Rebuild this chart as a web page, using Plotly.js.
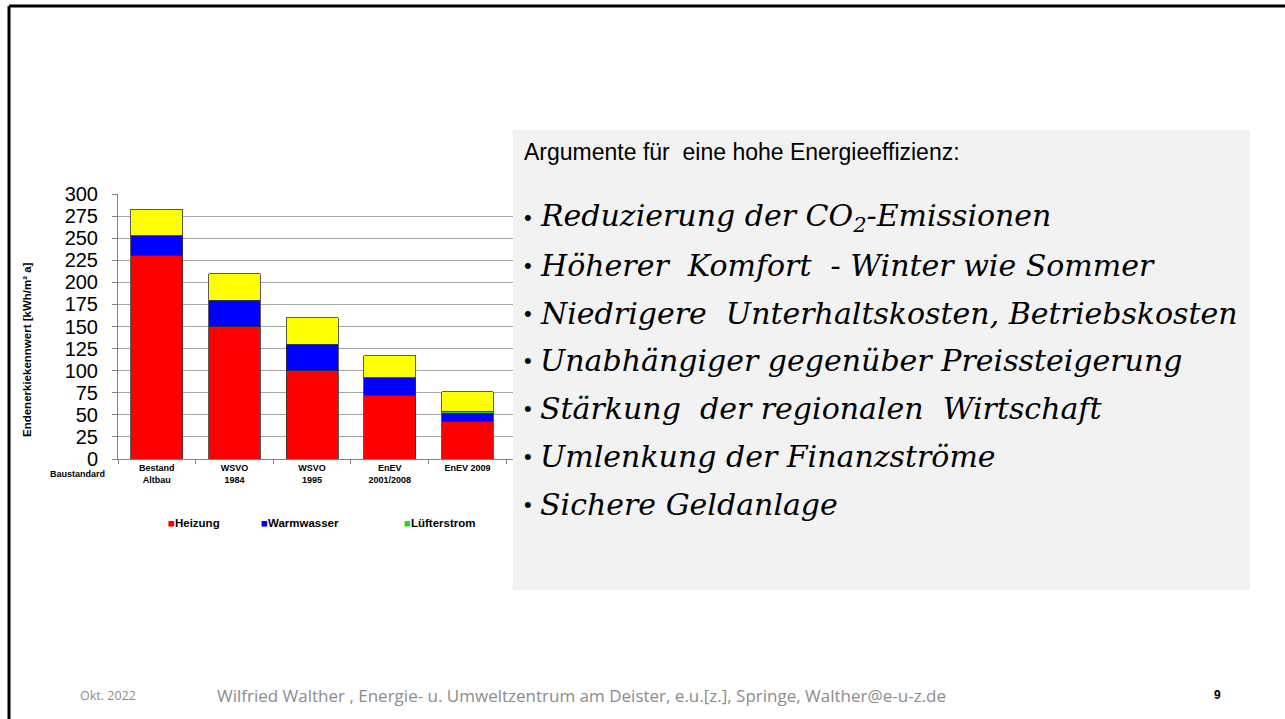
<!DOCTYPE html>
<html>
<head>
<meta charset="utf-8">
<script src="https://cdn.plot.ly/plotly-3.0.1.min.js"></script>
<style>html,body{margin:0;padding:0;background:#fff;}#chart{width:1285px;height:719px;}</style>
</head>
<body>
<div id="chart"></div>
<script>
// ---- data ----
var categories = ["Bestand<br>Altbau", "WSVO<br>1984", "WSVO<br>1995", "EnEV<br>2001/2008", "EnEV 2009"];
var heizung = [230, 150, 100, 72, 42];
var warmwasser = [23, 30, 30, 20, 10];
var luefterstrom = [0, 0, 0, 0, 2];
var sonstige = [30, 30, 30, 25, 22];
var seriesNames = ["Heizung", "Warmwasser", "Lüfterstrom"];
var seriesColors = ["#ff0000", "#0000ff", "#33cc33"];
var yAxisTitle = "Endenerkiekennwert [kWh/m² a]";
var xAxisTitle = "Baustandard";
var boxHeading = "Argumente für  eine hohe Energieeffizienz:";
var bullets = [
  "Reduzierung der CO<sub>2</sub>-Emissionen",
  "Höherer  Komfort  - Winter wie Sommer",
  "Niedrigere  Unterhaltskosten, Betriebskosten",
  "Unabhängiger gegenüber Preissteigerung",
  "Stärkung  der regionalen  Wirtschaft",
  "Umlenkung der Finanzströme",
  "Sichere Geldanlage"
];
var footerDate = "Okt. 2022";
var footerText = "Wilfried Walther , Energie- u. Umweltzentrum am Deister, e.u.[z.], Springe, Walther@e-u-z.de";
var pageNumber = "9";

// ---- helpers (pixel -> paper) ----
var W = 1285, H = 719;
function px(x) { return x / W; }
function py(y) { return 1 - y / H; }

var outline = {color: "#333333", width: 0.8};
var traces = [
  {type: "bar", x: categories, y: heizung, name: seriesNames[0], marker: {color: seriesColors[0], line: outline}, showlegend: false},
  {type: "bar", x: categories, y: warmwasser, name: seriesNames[1], marker: {color: seriesColors[1], line: outline}, showlegend: false},
  {type: "bar", x: categories, y: luefterstrom, name: seriesNames[2], marker: {color: seriesColors[2], line: outline}, showlegend: false},
  {type: "bar", x: categories, y: sonstige, name: "sonstige", marker: {color: "#ffff00", line: outline}, showlegend: false}
];

var annotations = [];
// y axis title
annotations.push({xref: "paper", yref: "paper", x: px(27), y: py(350), text: "<b>" + yAxisTitle + "</b>",
  textangle: -90, showarrow: false, font: {family: "Liberation Sans, Arial", size: 11.5, color: "#000"}, xanchor: "center", yanchor: "middle"});
// Baustandard
annotations.push({xref: "paper", yref: "paper", x: px(77), y: py(474), text: "<b>" + xAxisTitle + "</b>",
  showarrow: false, font: {family: "Liberation Sans, Arial", size: 9, color: "#000"}, xanchor: "center", yanchor: "middle"});
// legend
var legX = [166, 259, 402];
for (var i = 0; i < seriesNames.length; i++) {
  annotations.push({xref: "paper", yref: "paper", x: px(legX[i]), y: py(523),
    text: "<span style='color:" + seriesColors[i] + "'>■</span><b>" + seriesNames[i] + "</b>",
    showarrow: false, font: {family: "Liberation Sans, Arial", size: 11.5, color: "#000"}, xanchor: "left", yanchor: "middle"});
}
// box heading
annotations.push({xref: "paper", yref: "paper", x: px(522), y: py(152), text: boxHeading, showarrow: false,
  font: {family: "Liberation Sans, Arial", size: 23, color: "#000"}, xanchor: "left", yanchor: "middle"});
// bullets
var bulletY = [217, 265, 313, 360, 408, 456, 504];
for (var j = 0; j < bullets.length; j++) {
  annotations.push({xref: "paper", yref: "paper", x: px(522), y: py(bulletY[j]), text: "•", showarrow: false,
    font: {family: "Liberation Sans, Arial", size: 22, color: "#000"}, xanchor: "left", yanchor: "middle"});
  annotations.push({xref: "paper", yref: "paper", x: px(538), y: py(bulletY[j]), text: "<i>" + bullets[j] + "</i>", showarrow: false,
    font: {family: "DejaVu Serif", size: 30, color: "#000"}, xanchor: "left", yanchor: "middle"});
}
// footer
annotations.push({xref: "paper", yref: "paper", x: px(78), y: py(695), text: footerDate, showarrow: false,
  font: {family: "Open Sans", size: 12.5, color: "#8c8c8c"}, xanchor: "left", yanchor: "middle"});
annotations.push({xref: "paper", yref: "paper", x: px(215), y: py(695), text: footerText, showarrow: false,
  font: {family: "Open Sans", size: 17, color: "#8c8c8c"}, xanchor: "left", yanchor: "middle"});
annotations.push({xref: "paper", yref: "paper", x: px(1217), y: py(695), text: "<b>" + pageNumber + "</b>", showarrow: false,
  font: {family: "Liberation Sans, Arial", size: 12, color: "#000"}, xanchor: "center", yanchor: "middle"});

var shapes = [
  // grey text box
  {type: "rect", xref: "paper", yref: "paper", x0: px(513), x1: px(1250), y0: py(130), y1: py(590),
    fillcolor: "#f2f2f2", line: {width: 0}, layer: "above"},
  // slide border
  {type: "line", xref: "paper", yref: "paper", x0: px(9), x1: px(1285), y0: py(6), y1: py(6), line: {color: "#000", width: 3}},
  {type: "line", xref: "paper", yref: "paper", x0: px(9), x1: px(9), y0: py(6), y1: py(719), line: {color: "#000", width: 3}}
];

var layout = {
  width: W, height: H,
  margin: {l: 0, r: 0, t: 0, b: 0},
  paper_bgcolor: "#ffffff", plot_bgcolor: "#ffffff",
  barmode: "stack", bargap: 0.333,
  showlegend: false,
  xaxis: {domain: [px(118), px(514)], type: "category", range: [-0.5, 4.6],
    showline: true, linecolor: "#808080", linewidth: 1, ticks: "outside", tickson: "boundaries", ticklen: 4, tickcolor: "#808080",
    tickfont: {family: "Liberation Sans, Arial", size: 9, color: "#000", weight: "bold"}, showgrid: false, fixedrange: true},
  yaxis: {domain: [py(459), py(194)], range: [0, 300], dtick: 25, tick0: 0,
    showline: true, linecolor: "#808080", linewidth: 1, ticks: "outside", ticklen: 5, tickcolor: "#808080",
    showgrid: true, gridcolor: "#a6a6a6", gridwidth: 1, zeroline: false, ticklabelstandoff: 10,
    tickfont: {family: "Liberation Sans, Arial", size: 20, color: "#000"}, fixedrange: true},
  annotations: annotations,
  shapes: shapes
};

Plotly.newPlot("chart", traces, layout, {staticPlot: true, displayModeBar: false});
</script>
</body>
</html>
